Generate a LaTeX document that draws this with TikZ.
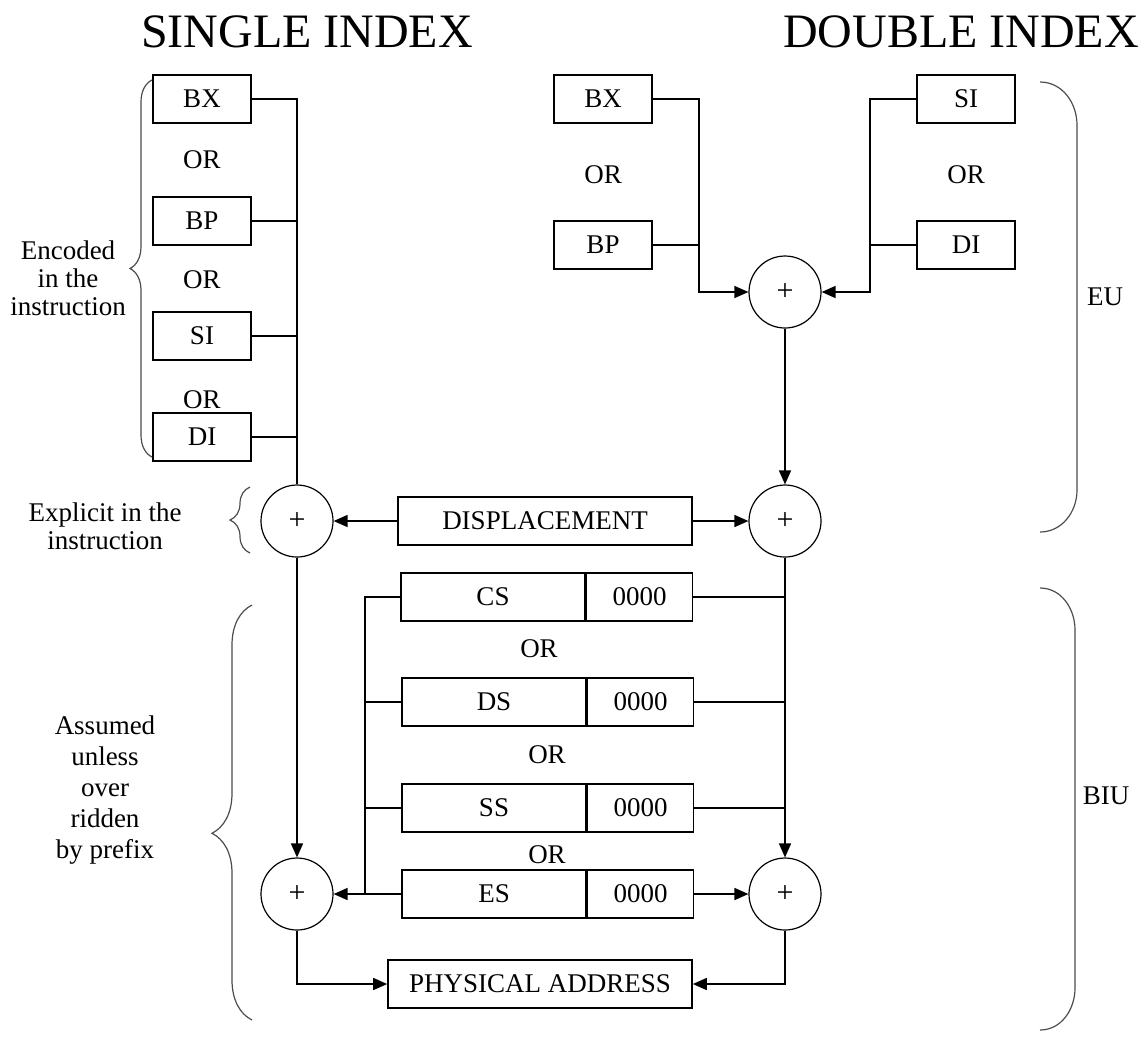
\documentclass[tikz,border=0pt]{standalone}
\usepackage{fontspec}
\setmainfont{Liberation Serif}
\usetikzlibrary{arrows.meta,positioning,decorations.pathreplacing}

\begin{document}
\begin{tikzpicture}[x=0.5pt,y=-0.5pt,>={Triangle[length=7pt,width=6pt]},
  line width=0.8pt,
  reg/.style={draw,minimum width=49pt,minimum height=24pt,inner sep=0pt,font=\fontsize{13.5}{15}\selectfont},
  seg/.style={reg,minimum width=92pt},
  zero/.style={reg,minimum width=53pt},
  adder/.style={draw,circle,minimum size=36pt,inner sep=0pt,line width=0.6pt,font=\fontsize{15}{16}\selectfont},
  lbl/.style={font=\fontsize{13.5}{14}\selectfont,align=center},
  ttl/.style={font=\fontsize{24}{28}\selectfont},
  brc/.style={draw=black!70,line width=0.6pt}]
\useasboundingbox (0,0) rectangle (1145,1041);

% titles
\node[ttl] (single) at (307,32) {SINGLE INDEX};
\node[ttl] (double) at (961,32) {DOUBLE INDEX};

% single index registers
\node[reg] (bx1) at (202,99) {BX};
\node[lbl] (or1) at (202,160) {OR};
\node[reg] (bp1) at (202,221) {BP};
\node[lbl] (or2) at (202,280) {OR};
\node[reg] (si1) at (202,336) {SI};
\node[lbl] (or3) at (202,400) {OR};
\node[reg] (di1) at (202,437) {DI};

% double index registers
\node[reg] (bx2) at (603,99) {BX};
\node[lbl] (or4) at (603,175) {OR};
\node[reg] (bp2) at (603,245) {BP};
\node[reg] (si2) at (966,99) {SI};
\node[lbl] (or5) at (966,175) {OR};
\node[reg] (di2) at (966,245) {DI};

% adders
\node[adder] (sum1) at (785,292) {+};
\node[adder] (sum2) at (297,521) {+};
\node[adder] (sum3) at (785,521) {+};
\node[adder] (sum4) at (297,894) {+};
\node[adder] (sum5) at (785,894) {+};

\node[reg,minimum width=147pt] (disp) at (545,521) {DISPLACEMENT};

% segment registers
\node[seg] (cs) at (493,597) {CS};
\node[zero,right=0pt of cs] (cs0) {0000};
\node[lbl] (or6) at (539,649) {OR};
\node[seg] (ds) at (494,702) {DS};
\node[zero,right=0pt of ds] (ds0) {0000};
\node[lbl] (or7) at (547,755) {OR};
\node[seg] (ss) at (494,808) {SS};
\node[zero,right=0pt of ss] (ss0) {0000};
\node[lbl] (or8) at (547,855) {OR};
\node[seg] (es) at (494,894) {ES};
\node[zero,right=0pt of es] (es0) {0000};

\node[reg,minimum width=152pt] (phys) at (540,984) {PHYSICAL ADDRESS};

% single index path
\draw (bx1.east) -| (sum2.north);
\draw (bp1.east) -- (bp1.east -| sum2.north);
\draw (si1.east) -- (si1.east -| sum2.north);
\draw (di1.east) -- (di1.east -| sum2.north);

% double index path
\coordinate (jl) at (699,292);
\coordinate (jr) at (870,292);
\draw[->] (bx2.east) -| (jl) -- (sum1.west);
\draw (bp2.east) -- (bp2.east -| jl);
\draw[->] (si2.west) -| (jr) -- (sum1.east);
\draw (di2.west) -- (di2.west -| jr);
\draw[->] (sum1) -- (sum3);

% displacement
\draw[->] (disp) -- (sum2);
\draw[->] (disp) -- (sum3);
\draw[->] (sum2) -- (sum4);
\draw[->] (sum3) -- (sum5);

% segments
\coordinate (bus) at (365,597);
\draw (cs.west) -- (bus) -- (bus |- es.west);
\draw (ds.west) -- (ds.west -| bus);
\draw (ss.west) -- (ss.west -| bus);
\draw[->] (es.west) -- (sum4.east);
\draw (cs0.east) -- (cs0.east -| sum3.south);
\draw (ds0.east) -- (ds0.east -| sum3.south);
\draw (ss0.east) -- (ss0.east -| sum3.south);
\draw[->] (es0) -- (sum5);

% physical address
\draw[->] (sum4.south) |- (phys.west);
\draw[->] (sum5.south) |- (phys.east);

% braces and notes
\draw[brc,decorate,decoration={brace,amplitude=11pt}] (152,457) -- (152,80);
\node[lbl] (enc) at (68,278) {Encoded\\in the\\instruction};
\draw[brc,decorate,decoration={brace,amplitude=10pt}] (250,553) -- (250,487);
\node[lbl] (expl) at (105,526) {Explicit in the\\instruction};
\draw[brc,decorate,decoration={brace,amplitude=20pt,aspect=0.45}] (252,1020) -- (252,605);
\node[lbl,font=\fontsize{13.5}{15.5}\selectfont] (assm) at (105,790) {Assumed\\unless\\over\\ridden\\by prefix};

\draw[brc] (1040,82) to[out=0,in=90] (1077,125) -- (1077,490) to[out=-90,in=0] (1040,532);
\node[lbl] (eu) at (1105,297) {EU};
\draw[brc] (1040,588) to[out=0,in=90] (1075,630) -- (1075,988) to[out=-90,in=0] (1040,1030);
\node[lbl] (biu) at (1106,796) {BIU};
\end{tikzpicture}
\end{document}
